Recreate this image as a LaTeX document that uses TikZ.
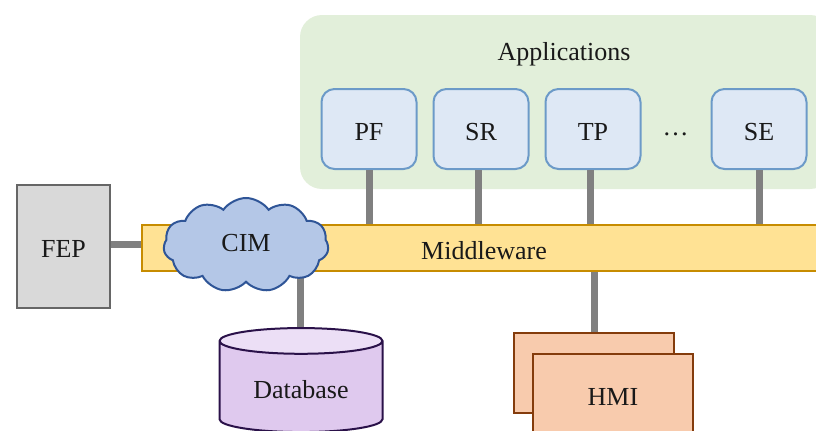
\documentclass[tikz,border=0pt]{standalone}
\usepackage{fontspec}
\setmainfont{Liberation Serif}
\usetikzlibrary{positioning,shapes.geometric,shapes.symbols}
\definecolor{appgreen}{HTML}{E2EFDA}
\definecolor{appfill}{HTML}{DEE8F5}
\definecolor{appline}{HTML}{6C9AC8}
\definecolor{midfill}{HTML}{FFE294}
\definecolor{midline}{HTML}{C78C00}
\definecolor{cloudfill}{HTML}{B4C7E7}
\definecolor{cloudline}{HTML}{2F5597}
\definecolor{dbbody}{HTML}{DFC9EE}
\definecolor{dbtop}{HTML}{ECDFF6}
\definecolor{dbline}{HTML}{2A1149}
\definecolor{hmifill}{HTML}{F8CBAD}
\definecolor{hmiline}{HTML}{843C0C}
\tikzset{
  every node/.style={font=\fontsize{13}{15}\selectfont, text=black!90, text height=11pt, text depth=0pt},
  app/.style={draw=appline, fill=appfill, line width=1pt, rounded corners=6.5pt,
    minimum width=47.5pt, minimum height=40pt, inner sep=0pt},
  hmibox/.style={draw=hmiline, fill=hmifill, line width=1pt,
    minimum width=80pt, minimum height=40pt, inner sep=0pt},
  link/.style={draw=black!50, line width=3.5pt}
}
\begin{document}
\begin{tikzpicture}[x=1pt,y=1pt]
   \useasboundingbox (0,0) rectangle (408,215);
   \node (Apps) [fill=appgreen, rounded corners=11pt, minimum width=266pt, minimum height=87pt] at (283,164) {};
   \node (Title) at (282,190.5) {Applications};
   \node (PF) [app] at (184.5,150.5) {PF};
   \node (SR) [app, right=7.5pt of PF] {SR};
   \node (TP) [app, right=7.5pt of SR] {TP};
   \node (SE) [app, right=34.5pt of TP] {SE};
   \node (Dots) [right=7pt of TP, yshift=2.5pt] {\dots};
   \node (MW) [draw=midline, fill=midfill, line width=1pt, minimum width=342pt, minimum height=23pt, inner sep=0pt] at (242,91) {Middleware};
   \node (FEP) [draw=black!60, fill=black!15, line width=1pt, minimum width=46.5pt, minimum height=61.5pt, inner sep=0pt, left=15pt of MW, yshift=1pt] {FEP};
   \node (DB) [cylinder, shape border rotate=90, aspect=.27, draw=dbline, line width=1pt, cylinder uses custom fill, cylinder body fill=dbbody, cylinder end fill=dbtop, minimum width=81.5pt, minimum height=52pt, inner sep=0pt] at (150.5,21.5) {Database};
   \node (HMIb) [hmibox] at (297,28.5) {};
   \node (HMI) [hmibox, below right=-30.5pt and -71.5pt of HMIb] {HMI};
   \path[link]
     (PF.south) edge (PF.south |- MW.north)
     ([xshift=-1.5pt]SR.south) edge ([xshift=-1.5pt]SR.south |- MW.north)
     ([xshift=-1.5pt]TP.south) edge ([xshift=-1.5pt]TP.south |- MW.north)
     (SE.south) edge (SE.south |- MW.north)
     ([yshift=2pt]MW.west) edge ([yshift=2pt]MW.west -| FEP.east)
     (DB.north) edge (DB.north |- MW.south)
     (HMIb.north) edge (HMIb.north |- MW.south);
   \node (CIM) [cloud, cloud puffs=11, cloud puff arc=110, aspect=1.75, draw=cloudline, fill=cloudfill, line width=1pt, minimum width=82.5pt, minimum height=47pt, inner sep=0pt, text height=9pt, text depth=3pt] at (123,92.5) {CIM\hspace{3.5pt}};
\end{tikzpicture}
\end{document}
